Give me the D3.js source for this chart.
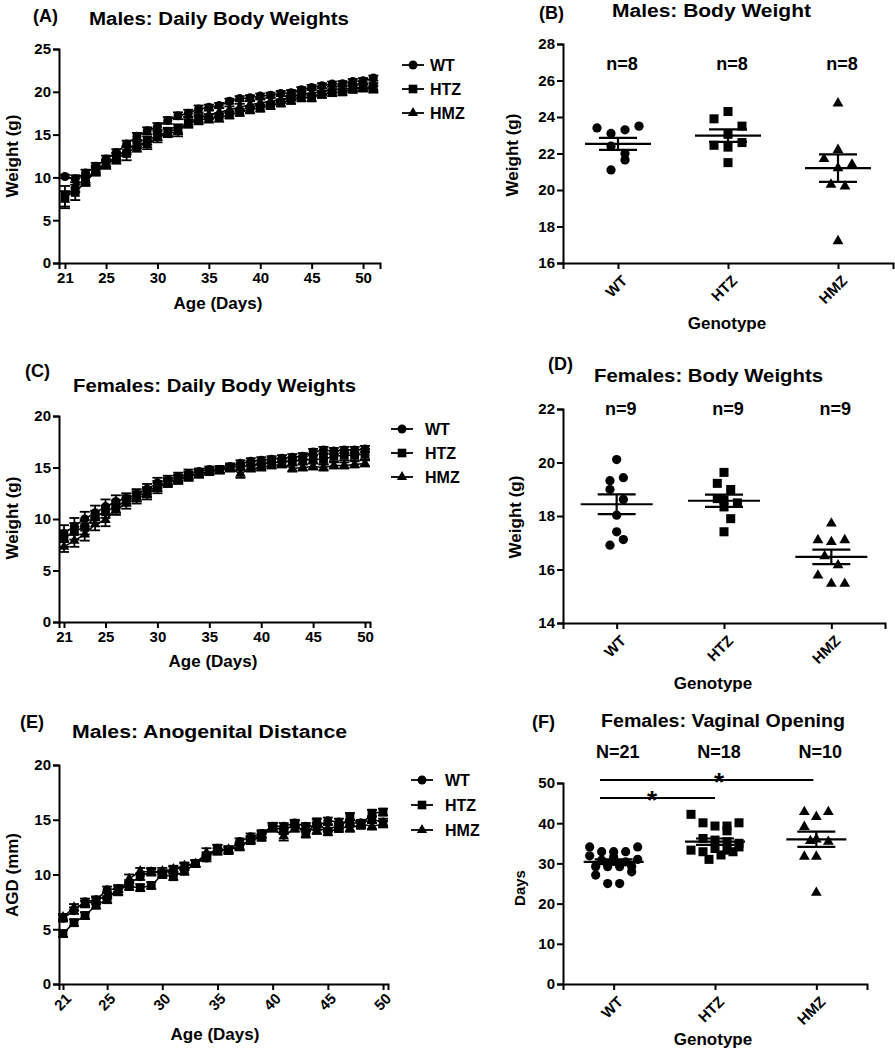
<!DOCTYPE html>
<html><head><meta charset="utf-8">
<script src="https://cdn.jsdelivr.net/npm/d3@7"></script>
<style>
body{margin:0;background:#fff}
text{font-family:Arial,"Liberation Sans",sans-serif;font-weight:bold;fill:#000}
</style>
</head><body>
<svg id="chart" width="895" height="1050"></svg>
<script>
// ---------- DATA ----------
const groups = ["WT", "HTZ", "HMZ"];

// (A) Males: daily body weights (g)
const daysA = [21,22,23,24,25,26,27,28,29,30,31,32,33,34,35,36,37,38,39,40,41,42,43,44,45,46,47,48,49,50,51];
const maleWT  = [10.1,9.85,10.5,11.3,12.15,12.9,13.9,14.8,15.45,15.95,16.65,17.2,17.5,18.0,18.2,18.4,18.9,19.2,19.3,19.5,19.6,19.8,19.9,20.25,20.5,20.7,20.9,20.95,21.2,21.3,21.6];
const maleHTZ = [7.8,8.25,9.5,10.7,11.5,12.2,12.8,13.6,14.3,14.9,15.3,15.7,16.3,16.7,16.9,17.0,17.3,17.6,17.9,18.1,18.4,18.7,19.0,19.3,19.3,19.7,19.9,20.0,20.3,20.45,20.6];
const maleHMZ = [7.4,9.1,9.7,10.9,11.6,12.4,13.2,13.9,13.8,14.6,15.2,15.3,16.5,16.9,17.3,17.6,17.9,18.2,18.5,18.7,18.9,19.1,19.4,19.7,19.9,20.0,20.2,20.3,20.45,20.5,20.3];
const maleWTerr  = [0.2,0.4,0.4,0.4,0.4,0.4,0.4,0.4,0.4,0.4,0.4,0.4,0.4,0.4,0.3,0.3,0.3,0.3,0.3,0.3,0.3,0.3,0.3,0.3,0.3,0.3,0.3,0.3,0.3,0.3,0.3];
const maleHTZerr = [1.2,0.9,0.5,0.5,0.5,0.6,0.8,0.6,0.5,0.5,0.5,0.5,0.5,0.5,0.5,0.5,0.4,0.4,0.4,0.4,0.4,0.4,0.4,0.4,0.4,0.4,0.4,0.4,0.4,0.4,0.4];
const maleHMZerr = [1.0,0.8,0.5,0.5,0.5,0.5,0.5,0.5,0.5,0.5,0.5,0.5,0.5,0.5,0.5,0.5,0.4,0.4,0.4,0.4,0.4,0.4,0.4,0.4,0.4,0.4,0.4,0.4,0.4,0.4,0.4];

// (C) Females: daily body weights (g)
const daysC = [21,22,23,24,25,26,27,28,29,30,31,32,33,34,35,36,37,38,39,40,41,42,43,44,45,46,47,48,49,50];
const femWT  = [8.6,9.3,10.0,10.6,11.2,11.7,12.0,12.4,12.9,13.5,13.8,14.1,14.4,14.6,14.8,14.8,15.1,15.4,15.6,15.7,15.8,15.9,16.0,16.1,16.5,16.7,16.6,16.7,16.7,16.8];
const femHTZ = [8.1,8.8,9.2,10.2,10.7,11.2,11.8,12.2,12.6,13.2,13.6,13.9,14.2,14.4,14.6,14.8,15.0,15.1,15.2,15.3,15.5,15.5,15.6,15.7,15.8,15.8,16.1,16.2,16.2,16.3];
const femHMZ = [7.3,7.9,8.5,9.5,9.9,10.9,11.5,12.0,12.4,13.0,13.5,13.8,14.1,14.4,14.6,14.7,14.9,14.4,14.9,15.0,15.2,15.3,14.9,15.0,15.1,15.0,15.2,15.2,15.3,15.4];
const femWTerr  = [0.8,0.8,0.7,0.7,0.7,0.6,0.5,0.5,0.5,0.5,0.4,0.4,0.4,0.3,0.3,0.3,0.3,0.3,0.3,0.3,0.3,0.3,0.3,0.3,0.3,0.3,0.3,0.3,0.3,0.3];
const femHTZerr = [0.8,0.8,0.7,0.6,0.6,0.6,0.5,0.5,0.5,0.5,0.4,0.4,0.4,0.4,0.3,0.3,0.3,0.3,0.4,0.4,0.4,0.4,0.4,0.4,0.4,0.5,0.5,0.5,0.5,0.5];
const femHMZerr = [0.5,0.6,0.6,0.6,0.6,0.5,0.5,0.5,0.5,0.5,0.4,0.4,0.4,0.3,0.3,0.3,0.3,0.4,0.3,0.3,0.3,0.3,0.3,0.3,0.3,0.3,0.3,0.3,0.3,0.3];

// (E) Males: anogenital distance (mm)
const daysE = [21,22,23,24,25,26,27,28,29,30,31,32,33,34,35,36,37,38,39,40,41,42,43,44,45,46,47,48,49,50];
const agdWT  = [6.0,6.7,7.5,7.7,8.6,8.7,9.2,9.8,10.3,10.1,10.4,10.7,11.0,11.5,12.4,12.2,13.0,13.45,13.75,14.4,14.4,14.7,14.4,14.4,14.9,14.8,14.7,14.7,15.0,14.8];
const agdHTZ = [4.6,5.6,6.25,7.2,7.7,8.7,8.9,8.8,9.0,10.0,9.8,10.3,11.0,11.7,12.4,12.2,12.6,13.1,13.4,14.4,14.0,14.6,13.7,14.8,13.9,14.2,15.3,14.5,15.6,15.7];
const agdHMZ = [6.1,7.0,7.3,7.6,8.1,8.4,9.6,10.3,10.2,10.3,10.5,10.8,11.0,12.0,12.1,12.3,12.5,13.2,13.6,14.2,13.5,14.2,14.2,14.0,14.2,14.4,14.2,14.6,14.4,14.6];
const agdWTerr  = [0.3,0.3,0.3,0.3,0.3,0.3,0.3,0.3,0.3,0.3,0.3,0.3,0.3,0.3,0.3,0.3,0.3,0.3,0.3,0.3,0.3,0.3,0.3,0.3,0.3,0.3,0.3,0.3,0.3,0.3];
const agdHTZerr = [0.3,0.3,0.3,0.3,0.3,0.3,0.3,0.3,0.3,0.3,0.3,0.3,0.3,0.3,0.3,0.3,0.3,0.3,0.3,0.3,0.3,0.3,0.3,0.3,0.3,0.3,0.3,0.3,0.3,0.3];
const agdHMZerr = [0.3,0.3,0.3,0.3,0.3,0.3,0.4,0.3,0.3,0.3,0.3,0.3,0.3,0.4,0.3,0.3,0.3,0.3,0.3,0.3,0.4,0.3,0.3,0.3,0.3,0.3,0.3,0.3,0.3,0.3];

// (B) Males: body weight (g) — individual animals, lane = horizontal slot in the scatter
const bWT  = [23.4,23.1,23.3,23.5,22.4,22.0,21.65,21.1];
const bWTlane  = [-3,-1,1,3,-1,1,1,-1];
const bHTZ = [23.9,24.3,23.5,23.05,22.45,22.35,22.6,21.5];
const bHTZlane = [-2,0,2,0,-2,0,2,0];
const bHMZ = [24.75,21.7,22.2,21.4,21.2,20.3,20.2,17.2];
const bHMZlane = [0,-2,0,2,0,-1,1,0];
const bMean = [22.53,22.98,21.2];
const bSem  = [0.33,0.34,0.75];
const bN = ["n=8","n=8","n=8"];

// (D) Females: body weights (g)
const dWT  = [20.11,19.32,19.43,18.99,18.62,18.03,17.41,17.12,16.91];
const dWTlane  = [0,-1,1,-1,1,0,0,1,-1];
const dHTZ = [19.63,19.22,18.99,18.65,18.6,18.49,18.34,17.9,17.41];
const dHTZlane = [0,-1,1,-1,0,2,0,1,0];
const dHMZ = [17.72,17.1,17.03,17.1,16.5,16.16,15.78,15.47,15.47];
const dHMZlane = [0,-2,0,2,-1,1,-2,0,2];
const dMean = [18.44,18.57,16.47];
const dSem  = [0.37,0.23,0.27];
const dN = ["n=9","n=9","n=9"];

// (F) Females: vaginal opening (days)
const fWT  = [34.1,32.9,32.9,32.9,34.1,31.9,30.8,31.6,30.4,31.0,30.0,30.0,29.2,29.2,29.2,29.2,27.1,27.9,25.0,25.0,30.5];
const fWTlane  = [-4,-2,0,2,4,-4,-2,0,2,4,-1,1,-3,-1,1,3,-3,3,-1,1,0];
const fHTZ = [42.2,40.1,39.3,39.3,40.1,38.1,36.2,35.8,35.4,35.0,33.3,32.9,33.7,33.3,34.1,31.0,32.1,32.9];
const fHTZlane = [-4,-2,0,2,4,2,-2,0,2,4,-4,-2,0,2,4,-1,1,3];
const fHMZ = [42.8,41.6,42.8,39.1,36.0,35.4,35.6,31.7,31.7,22.7];
const fHMZlane = [-2,0,2,-2,0,2,-1,-2,0,0];
const fMean = [30.4,35.4,36.0];
const fSem  = [0.6,0.8,1.9];
const fN = ["N=21","N=18","N=10"];

const yTicksA = [0,5,10,15,20,25];
const yTicksC = [0,5,10,15,20];
const yTicksE = [0,5,10,15,20];
const yTicksB = [16,18,20,22,24,26,28];
const yTicksD = [14,16,18,20,22];
const yTicksF = [0,10,20,30,40,50];
const xTicksDays = [21,25,30,35,40,45,50];

// ---------- DRAWING ----------
const svg = d3.select("#chart");
const shapes = {WT: d3.symbolCircle, HTZ: d3.symbolSquare, HMZ: d3.symbolTriangle};
const sizes  = {WT: 56, HTZ: 68, HMZ: 42};
const sym = (g, k) => d3.symbol().type(shapes[g]).size(k * sizes[g])();

function styleAxis(sel, fs) {
  sel.select(".domain").attr("stroke", "#000").attr("stroke-width", 2);
  sel.selectAll(".tick line").attr("stroke", "#000").attr("stroke-width", 2);
  sel.selectAll(".tick text").attr("font-size", fs).attr("font-weight", "bold")
     .attr("font-family", "Arial, 'Liberation Sans', sans-serif").attr("fill", "#000");
}

function txt(x, y, s, fs, opts = {}) {
  const t = svg.append("text").attr("x", x).attr("y", y).attr("font-size", fs).text(s);
  if (opts.anchor) t.attr("text-anchor", opts.anchor);
  if (opts.len) t.attr("textLength", opts.len).attr("lengthAdjust", "spacingAndGlyphs");
  if (opts.rot) t.attr("transform", `rotate(${opts.rot},${x},${y})`);
  return t;
}

function lineChart(o) {
  const g = svg.append("g");
  const x = d3.scaleLinear().domain(o.xDomain).range([o.x0, o.x1]);
  const y = d3.scaleLinear().domain(o.yDomain).range([o.y1, o.y0]);
  const ya = g.append("g").attr("transform", `translate(${o.x0},0)`)
    .call(d3.axisLeft(y).tickValues(o.yTicks).tickSizeOuter(0).tickSize(6).tickPadding(2));
  styleAxis(ya, 15);
  const xa = g.append("g").attr("transform", `translate(0,${o.y1})`)
    .call(d3.axisBottom(x).tickValues(xTicksDays).tickSizeOuter(0).tickSize(6).tickPadding(3));
  styleAxis(xa, 15);
  if (o.rotate) {
    xa.selectAll(".tick text").attr("text-anchor", "end").attr("dy", "0.35em")
      .attr("y", 0).attr("x", 0).attr("transform", "translate(5,12) rotate(-45)");
  }
  o.series.forEach(s => {
    const pts = o.days.map((d, i) => ({d, v: s.mean[i], e: s.err[i]}));
    g.append("path").datum(pts).attr("fill", "none").attr("stroke", "#000").attr("stroke-width", 1.5)
      .attr("d", d3.line().x(p => x(p.d)).y(p => y(p.v)));
    const eb = g.append("g").attr("stroke", "#000").attr("stroke-width", 1.8);
    pts.forEach(p => {
      const cx = x(p.d);
      eb.append("line").attr("x1", cx).attr("x2", cx).attr("y1", y(p.v - p.e)).attr("y2", y(p.v + p.e));
      [p.v - p.e, p.v + p.e].forEach(v => eb.append("line").attr("x1", cx - 5).attr("x2", cx + 5).attr("y1", y(v)).attr("y2", y(v)));
    });
    g.append("g").selectAll("path").data(pts).join("path")
      .attr("transform", p => `translate(${x(p.d)},${y(p.v)})`).attr("d", sym(s.name, 1.15)).attr("fill", "#000");
  });
  o.series.forEach((s, i) => {
    const ly = o.legY + i * o.legStep;
    g.append("line").attr("x1", o.legX - 11).attr("x2", o.legX + 11).attr("y1", ly).attr("y2", ly)
      .attr("stroke", "#000").attr("stroke-width", 1.8);
    g.append("path").attr("transform", `translate(${o.legX},${ly})`).attr("d", sym(s.name, 1.1)).attr("fill", "#000");
    g.append("text").attr("x", o.legX + o.legText).attr("y", ly).attr("dy", "0.36em")
      .attr("font-size", 16).text(s.name);
  });
}

function dotChart(o) {
  const g = svg.append("g");
  const x = d3.scalePoint().domain(groups).range([o.x0, o.x1]).padding(0.5);
  const y = d3.scaleLinear().domain(o.yDomain).range([o.y1, o.y0]);
  const ya = g.append("g").attr("transform", `translate(${o.x0},0)`)
    .call(d3.axisLeft(y).tickValues(o.yTicks).tickSizeOuter(0).tickSize(6).tickPadding(2));
  styleAxis(ya, 15);
  const xa = g.append("g").attr("transform", `translate(0,${o.y1})`)
    .call(d3.axisBottom(x).tickSizeOuter(0).tickSize(6));
  styleAxis(xa, 15);
  xa.selectAll(".tick text").attr("text-anchor", "end").attr("dy", "0.35em").attr("y", 0).attr("x", 0)
    .attr("transform", "translate(6,15) rotate(-45)");
  o.sets.forEach((s, gi) => {
    const cx = x(groups[gi]);
    g.append("g").selectAll("path").data(s.vals.map((v, i) => ({v, l: s.lanes[i]}))).join("path")
      .attr("transform", p => `translate(${cx + p.l * o.laneW},${y(p.v)})`)
      .attr("d", sym(groups[gi], 1.2)).attr("fill", "#000");
    const m = o.mean[gi], e = o.sem[gi];
    g.append("line").attr("x1", cx - o.meanW).attr("x2", cx + o.meanW).attr("y1", y(m)).attr("y2", y(m))
      .attr("stroke", "#000").attr("stroke-width", 2.2);
    [m - e, m + e].forEach(v => g.append("line").attr("x1", cx - 19).attr("x2", cx + 19).attr("y1", y(v)).attr("y2", y(v))
      .attr("stroke", "#000").attr("stroke-width", 2.2));
    g.append("line").attr("x1", cx).attr("x2", cx).attr("y1", y(m - e)).attr("y2", y(m + e))
      .attr("stroke", "#000").attr("stroke-width", 2.2);
    g.append("text").attr("x", cx + 4).attr("y", o.nY).attr("text-anchor", "middle").attr("font-size", 18).text(o.nLabels[gi]);
  });
  return {x, y};
}

// ----- Panel A -----
lineChart({x0: 59, x1: 380, y0: 49, y1: 263, xDomain: [20.42, 51.65], yDomain: [0, 25], yTicks: yTicksA,
  days: daysA, series: [
    {name: "WT", mean: maleWT, err: maleWTerr},
    {name: "HTZ", mean: maleHTZ, err: maleHTZerr},
    {name: "HMZ", mean: maleHMZ, err: maleHMZerr}],
  legX: 413, legY: 65, legStep: 24, legText: 17});
txt(33, 22, "(A)", 18);
txt(89, 25, "Males: Daily Body Weights", 18, {len: 260});
txt(18, 156, "Weight (g)", 17, {anchor: "middle", rot: -90});
txt(218, 309, "Age (Days)", 17, {anchor: "middle"});

// ----- Panel B -----
dotChart({x0: 563, x1: 893, y0: 44, y1: 263, yDomain: [16, 28], yTicks: yTicksB,
  sets: [{vals: bWT, lanes: bWTlane}, {vals: bHTZ, lanes: bHTZlane}, {vals: bHMZ, lanes: bHMZlane}],
  mean: bMean, sem: bSem, meanW: 33, laneW: 7, nY: 70, nLabels: bN});
txt(539, 19, "(B)", 18);
txt(612, 17, "Males: Body Weight", 18, {len: 199});
txt(518, 155, "Weight (g)", 17, {anchor: "middle", rot: -90});
txt(727, 329, "Genotype", 17, {anchor: "middle"});

// ----- Panel C -----
lineChart({x0: 59, x1: 370, y0: 416, y1: 622, xDomain: [20.52, 50.48], yDomain: [0, 20], yTicks: yTicksC,
  days: daysC, series: [
    {name: "WT", mean: femWT, err: femWTerr},
    {name: "HTZ", mean: femHTZ, err: femHTZerr},
    {name: "HMZ", mean: femHMZ, err: femHMZerr}],
  legX: 402, legY: 429, legStep: 24, legText: 23});
txt(25, 377, "(C)", 18);
txt(73, 392, "Females:  Daily Body Weights", 18, {len: 283});
txt(18, 518, "Weight (g)", 17, {anchor: "middle", rot: -90});
txt(213, 667, "Age (Days)", 17, {anchor: "middle"});

// ----- Panel D -----
dotChart({x0: 563, x1: 885, y0: 409, y1: 623, yDomain: [14, 22], yTicks: yTicksD,
  sets: [{vals: dWT, lanes: dWTlane}, {vals: dHTZ, lanes: dHTZlane}, {vals: dHMZ, lanes: dHMZlane}],
  mean: dMean, sem: dSem, meanW: 36, laneW: 6.7, nY: 415, nLabels: dN});
txt(548, 370, "(D)", 18);
txt(594, 382, "Females: Body Weights", 18, {len: 229});
txt(521, 517, "Weight (g)", 17, {anchor: "middle", rot: -90});
txt(713, 689, "Genotype", 17, {anchor: "middle"});

// ----- Panel E -----
lineChart({x0: 59, x1: 388, y0: 765, y1: 984, xDomain: [20.64, 50.45], yDomain: [0, 20], yTicks: yTicksE,
  days: daysE, series: [
    {name: "WT", mean: agdWT, err: agdWTerr},
    {name: "HTZ", mean: agdHTZ, err: agdHTZerr},
    {name: "HMZ", mean: agdHMZ, err: agdHMZerr}],
  legX: 422, legY: 780, legStep: 25, legText: 23, rotate: true});
txt(20, 728, "(E)", 18);
txt(72, 738, "Males: Anogenital Distance", 18, {len: 275});
txt(18, 875, "AGD (mm)", 17, {anchor: "middle", rot: -90});
txt(215, 1040, "Age (Days)", 17, {anchor: "middle"});

// ----- Panel F -----
const F = dotChart({x0: 563, x1: 867, y0: 783, y1: 984, yDomain: [0, 50], yTicks: yTicksF,
  sets: [{vals: fWT, lanes: fWTlane}, {vals: fHTZ, lanes: fHTZlane}, {vals: fHMZ, lanes: fHMZlane}],
  mean: fMean, sem: fSem, meanW: 30, laneW: 6, nY: 758, nLabels: fN});
txt(532, 728, "(F)", 18);
txt(601, 727, "Females: Vaginal Opening", 18, {len: 244});
txt(525, 888, "Days", 15, {anchor: "middle", rot: -90});
txt(713, 1045, "Genotype", 17, {anchor: "middle"});
svg.append("line").attr("x1", 600).attr("x2", F.x("HMZ") - 3).attr("y1", 780).attr("y2", 780).attr("stroke", "#000").attr("stroke-width", 2.2);
svg.append("line").attr("x1", 600).attr("x2", F.x("HTZ")).attr("y1", 798).attr("y2", 798).attr("stroke", "#000").attr("stroke-width", 2.2);
txt(719, 791, "*", 26, {anchor: "middle"});
txt(652, 809, "*", 26, {anchor: "middle"});
</script>
</body></html>
